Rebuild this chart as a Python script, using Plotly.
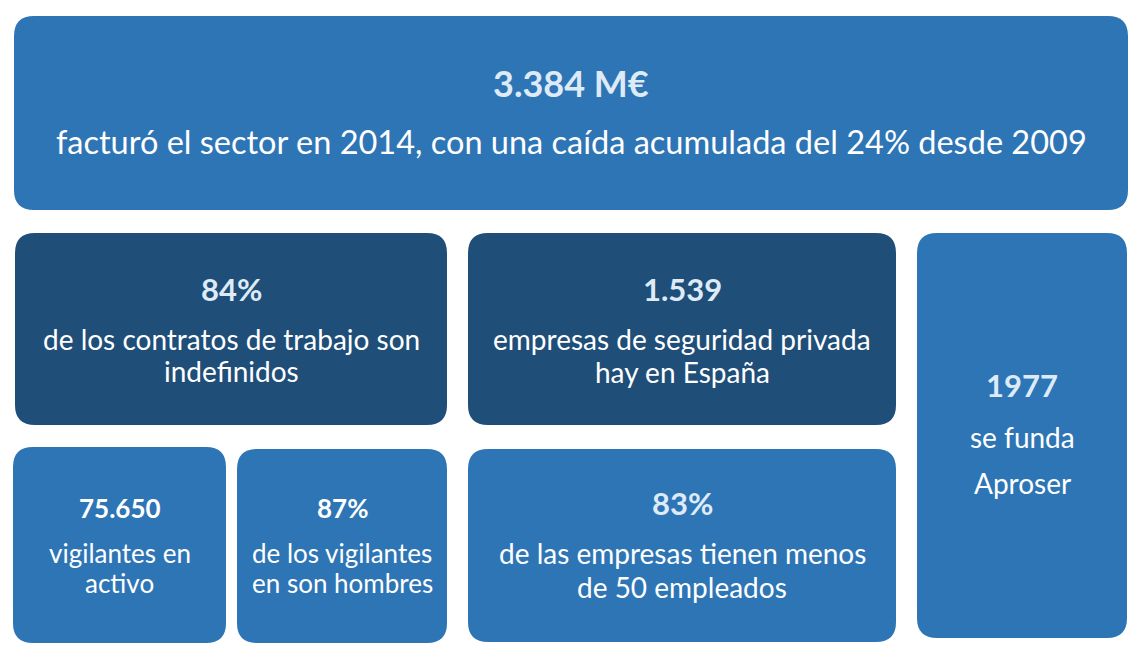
import plotly.graph_objects as go

# texts of each tile: headline figure and the lines below it
figures = ["3.384 M€", "84%", "1.539", "1977", "75.650", "87%", "83%"]
captions = [
    ["facturó el sector en 2014, con una caída acumulada del 24% desde 2009"],
    ["de los contratos de trabajo son", "indefinidos"],
    ["empresas de seguridad privada", "hay en España"],
    ["se funda", "Aproser"],
    ["vigilantes en", "activo"],
    ["de los vigilantes", "en son hombres"],
    ["de las empresas tienen menos", "de 50 empleados"],
]

# tile layout: x0, y0, x1, y1 in page pixels, fill, figure y, caption y's, sizes
tiles = [
    dict(box=(14, 16, 1128, 210), fill="#2E75B6", fy=83, cy=[141], fs=36, cs=32.5, fc="#DEEBF7"),
    dict(box=(15, 233, 447, 425), fill="#1F4E79", fy=289, cy=[339, 371], fs=31, cs=28, fc="#DEEBF7"),
    dict(box=(468, 233, 896, 425), fill="#1F4E79", fy=289, cy=[339, 372], fs=31, cs=28, fc="#DEEBF7"),
    dict(box=(917, 233, 1127, 638), fill="#2E75B6", fy=385, cy=[437, 483], fs=31, cs=28, fc="#DEEBF7"),
    dict(box=(13, 447, 226, 643), fill="#2E75B6", fy=508, cy=[553, 583], fs=26, cs=26, fc="#FFFFFF"),
    dict(box=(237, 449, 447, 643), fill="#2E75B6", fy=508, cy=[553, 583], fs=26, cs=26, fc="#FFFFFF"),
    dict(box=(468, 449, 896, 642), fill="#2E75B6", fy=503, cy=[553, 587], fs=31, cs=28, fc="#DEEBF7"),
]


def rounded(x0, y0, x1, y1, r):
    return (f"M{x0 + r},{y0} L{x1 - r},{y0} Q{x1},{y0} {x1},{y0 + r} "
            f"L{x1},{y1 - r} Q{x1},{y1} {x1 - r},{y1} L{x0 + r},{y1} "
            f"Q{x0},{y1} {x0},{y1 - r} L{x0},{y0 + r} Q{x0},{y0} {x0 + r},{y0} Z")


fig = go.Figure()
shapes = []
annotations = []
font = "Lato"
for t, num, lines in zip(tiles, figures, captions):
    x0, y0, x1, y1 = t["box"]
    shapes.append(dict(type="path", path=rounded(x0, y0, x1, y1, 20),
                       fillcolor=t["fill"], line=dict(width=0), layer="below"))
    cx = (x0 + x1) / 2
    annotations.append(dict(x=cx, y=t["fy"], text=f"<b>{num}</b>", showarrow=False,
                            xanchor="center", yanchor="middle",
                            font=dict(family=font, size=t["fs"], color=t["fc"])))
    for ly, line in zip(t["cy"], lines):
        annotations.append(dict(x=cx, y=ly, text=line, showarrow=False,
                                xanchor="center", yanchor="middle",
                                font=dict(family=font, size=t["cs"], color="white")))

# the page body has an 8px margin, so map axis units to page pixels
fig.update_layout(
    width=1136, height=649,
    margin=dict(l=0, r=0, t=0, b=0),
    paper_bgcolor="white", plot_bgcolor="white",
    xaxis=dict(range=[8, 1144], visible=False, fixedrange=True),
    yaxis=dict(range=[657, 8], visible=False, fixedrange=True),
    shapes=shapes, annotations=annotations,
    showlegend=False,
)
fig.write_html("out.html", config={"displayModeBar": False})
